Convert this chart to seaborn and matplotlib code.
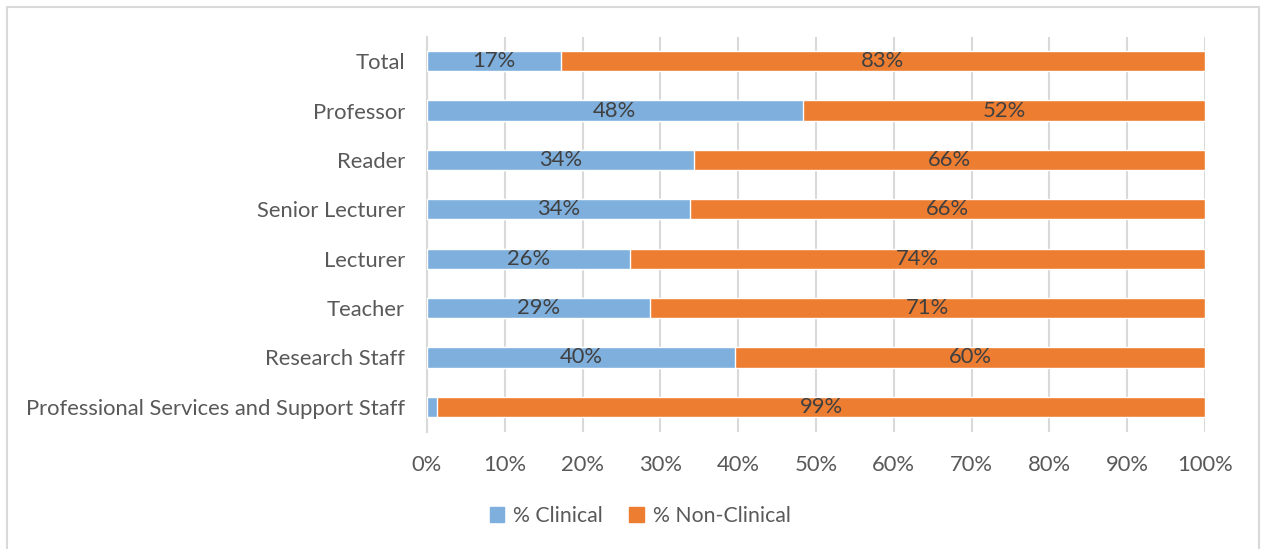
import matplotlib
matplotlib.use("Agg")
import matplotlib.pyplot as plt
import matplotlib.patches as mpatches
import seaborn as sns
import pandas as pd

categories = ["Total", "Professor", "Reader", "Senior Lecturer", "Lecturer",
              "Teacher", "Research Staff", "Professional Services and Support Staff"]
clinical = [17.2, 48.3, 34.3, 33.8, 26.1, 28.7, 39.6, 1.3]
non_clinical = [82.8, 51.7, 65.7, 66.2, 73.9, 71.3, 60.4, 98.7]
series_names = ["% Clinical", "% Non-Clinical"]
xticks = [0, 10, 20, 30, 40, 50, 60, 70, 80, 90, 100]

BLUE = "#7EAFDD"
ORANGE = "#ED7D31"
GRID = "#D9D9D9"
TXT = "#595959"
LBL = "#404040"

sns.set_theme(style="white")
plt.rcParams["font.family"] = ["Lato", "DejaVu Sans"]

df = pd.DataFrame({"cat": categories, "clin": clinical, "non": non_clinical})
df["total"] = df["clin"] + df["non"]

fig = plt.figure(figsize=(12.61, 5.49), dpi=100)
ax = fig.add_axes([427/1261, 1-431.5/549, (1205-427)/1261, (431.5-36.5)/549])

sns.barplot(data=df, y="cat", x="total", orient="h", color=ORANGE, width=0.41,
            saturation=1, ax=ax, zorder=3)
sns.barplot(data=df, y="cat", x="clin", orient="h", color=BLUE, width=0.41,
            saturation=1, ax=ax, zorder=4)

fs = 15.8
for i, (c, n) in enumerate(zip(clinical, non_clinical)):
    if c >= 5:
        ax.text(c/2, i, f"{round(c)}%", ha="center", va="center", color=LBL, fontsize=fs, zorder=5)
    ax.text(c + n/2, i, f"{round(n)}%", ha="center", va="center", color=LBL, fontsize=fs, zorder=5)

ax.set_xlim(0, 100)
ax.set_ylim(7.5, -0.5)
ax.set_xticks(xticks)
ax.set_xticklabels([f"{t}%" for t in xticks])
ax.tick_params(axis="both", length=0, labelsize=fs, colors=TXT)
ax.tick_params(axis="x", pad=17)
ax.tick_params(axis="y", pad=16)
ax.set_xlabel("")
ax.set_ylabel("")
ax.grid(axis="x", color=GRID, linewidth=1.5, zorder=0)
ax.set_axisbelow(True)
for s in ["top", "right", "bottom"]:
    ax.spines[s].set_visible(False)
ax.spines["left"].set_color(GRID)
ax.spines["left"].set_linewidth(1.5)
ax.spines["left"].set_zorder(1)

handles = [mpatches.Patch(color=BLUE, label=series_names[0]),
           mpatches.Patch(color=ORANGE, label=series_names[1])]
leg = fig.legend(handles=handles, loc="center", bbox_to_anchor=(640/1261, 1-516/549),
                 ncol=2, frameon=False, fontsize=15.3, handlelength=0.7, handleheight=0.7,
                 handletextpad=0.4, columnspacing=1.25)
for t in leg.get_texts():
    t.set_color(TXT)

fig.patches.append(mpatches.Rectangle((7/1261, -0.05), (1259-7)/1261, 1.05 - 7/549,
                                      transform=fig.transFigure, fill=False,
                                      edgecolor=GRID, linewidth=1.5))

fig.savefig("out.png", dpi=100)
